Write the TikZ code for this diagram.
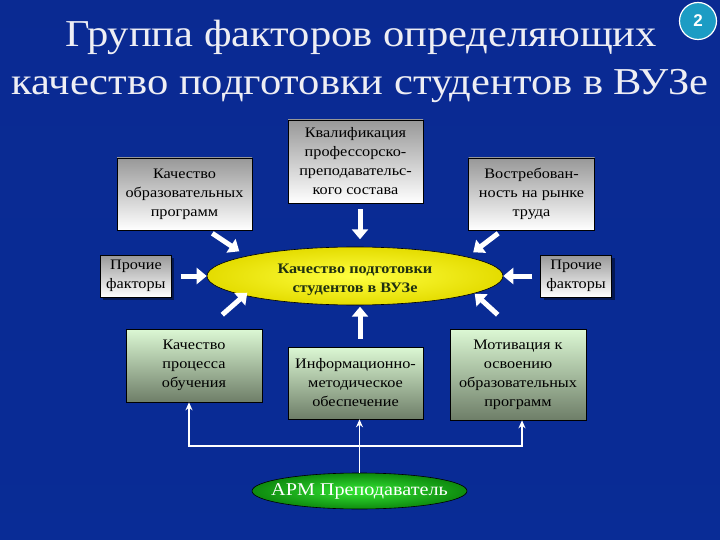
\documentclass[tikz,border=0pt]{standalone}
\usepackage{fontspec}
\setmainfont{Liberation Serif}[FakeStretch=1.12]
\setsansfont{Liberation Sans}
\usetikzlibrary{arrows.meta,positioning,calc,shapes.geometric,shadows}
\definecolor{bgtop}{HTML}{000008}
\definecolor{bgnight}{HTML}{010A34}
\definecolor{bgdark}{HTML}{041B72}
\definecolor{bgmid}{HTML}{0A2A92}
\definecolor{bgbot}{HTML}{0433A6}
\definecolor{titletext}{HTML}{EEEEF4}
\definecolor{boxtop}{HTML}{989898}
\definecolor{grtop}{HTML}{DCF8D4}
\definecolor{grbot}{HTML}{6E7E68}
\definecolor{ylin}{HTML}{FFFF40}
\definecolor{ylout}{HTML}{E4DC00}
\definecolor{yltext}{HTML}{203010}
\definecolor{armin}{HTML}{34E634}
\definecolor{armout}{HTML}{0E8A0E}
\definecolor{badgec}{HTML}{1C9CC4}
\pgfdeclareverticalshading{slide}{720pt}{color(0pt)=(bgbot); color(300pt)=(bgmid); color(410pt)=(bgdark); color(480pt)=(bgnight); color(540pt)=(bgtop)}

\begin{document}
\begin{tikzpicture}[x=1pt, y=-1pt,
  title/.style={text=titletext, font=\fontsize{38}{44}\selectfont, anchor=base, inner sep=0pt},
  badge/.style={circle, fill=badgec, draw=white, line width=1.2pt, minimum size=37pt, inner sep=0pt, text=white, font=\sffamily\bfseries\fontsize{17}{17}\selectfont},
  graybox/.style={draw=black, line width=0.6pt, top color=boxtop, bottom color=white, align=center, font=\fontsize{14.5}{19}\selectfont, inner sep=2pt},
  greenbox/.style={graybox, top color=grtop, bottom color=grbot},
  otherbox/.style={graybox, minimum width=71pt, minimum height=42pt, drop shadow={shadow xshift=3pt, shadow yshift=-3pt, fill=black, opacity=0.45}},
  goal/.style={ellipse, draw=black, line width=0.6pt, inner color=ylin, outer color=ylout, minimum width=296pt, minimum height=58pt, inner sep=0pt, align=center, text=yltext, font=\bfseries\fontsize{14.5}{19}\selectfont},
  arm/.style={ellipse, draw=black, line width=0.6pt, inner color=armin, outer color=armout, minimum width=215pt, minimum height=36pt, inner xsep=-25pt, inner ysep=0pt, text=white, font=\fontsize{18}{18}\selectfont},
  blk/.style={draw=white, line width=5pt, -{Triangle[width=16pt,length=10pt]}},
  conn/.style={draw=white, line width=1.6pt, -{Stealth[length=8pt,width=7pt]}},
]
\useasboundingbox (0,0) rectangle (720,540);
\shade[shading=slide] (0,0) rectangle (720,540);
% title
\node[title] (ttl1) at (361,47) {Группа факторов определяющих};
\node[title] (ttl2) at (360,95) {качество подготовки студентов в ВУЗе};
\node[badge] (num) at (698,21) {2};
% central goal
\node[goal] (ell) at (355,276) {\rule{0pt}{17pt}Качество подготовки\\студентов в ВУЗе};
% upper factors
\node[graybox, minimum width=135pt, minimum height=72pt] (A) at (184.5,194) {Качество\\образовательных\\программ};
\node[graybox, minimum width=135pt, minimum height=83pt] (B) at (355.5,161.5) {Квалификация\\профессорско-\\преподавательс-\\кого состава};
\node[graybox, minimum width=126pt, minimum height=72pt] (C) at (531.5,194) {Востребован-\\ность на рынке\\труда};
\node[otherbox, left=35pt of ell] (D) {Прочие\\факторы};
\node[otherbox, right=37pt of ell] (E) {Прочие\\факторы};
% lower factors
\node[greenbox, minimum width=136pt, minimum height=73pt] (F) at (194,365.5) {Качество\\процесса\\обучения};
\node[greenbox, minimum width=135pt, minimum height=72pt] (G) at (355.5,383) {Информационно-\\методическое\\обеспечение};
\node[greenbox, minimum width=136pt, minimum height=91pt] (H) at (518,374.5) {Мотивация к\\освоению\\образовательных\\программ};
\node[arm] (armnode) at (359.5,491) {АРМ Преподаватель};
% block arrows into the goal
\draw[blk] ($(A.south east)+(-40,3)$) -- ++(27,18);
\draw[blk] ($(B.south)+(4.5,6)$) -- ++(0,30);
\draw[blk] ($(C.south west)+(30,3)$) -- ++(-25,19);
\draw[blk] ($(D.east |- ell.west)+(9,0)$) -- (ell.west);
\draw[blk] ($(E.west |- ell.east)+(-8,0)$) -- (ell.east);
\draw[blk] ($(F.north east)+(-40,-14)$) -- ++(25,-22);
\draw[blk] ($(G.north)+(4.5,-8)$) -- ++(0,-32);
\draw[blk] ($(H.north west)+(48,-14)$) -- ++(-23,-21);
% workstation links
\coordinate (bus) at ($(armnode.north)+(0,-27)$);
\draw[conn] (armnode.north) -- (armnode.north |- G.south);
\draw[conn] (bus) -| ([xshift=-5pt]F.south);
\draw[conn] (bus) -| ([xshift=4pt]H.south);
\end{tikzpicture}
\end{document}
